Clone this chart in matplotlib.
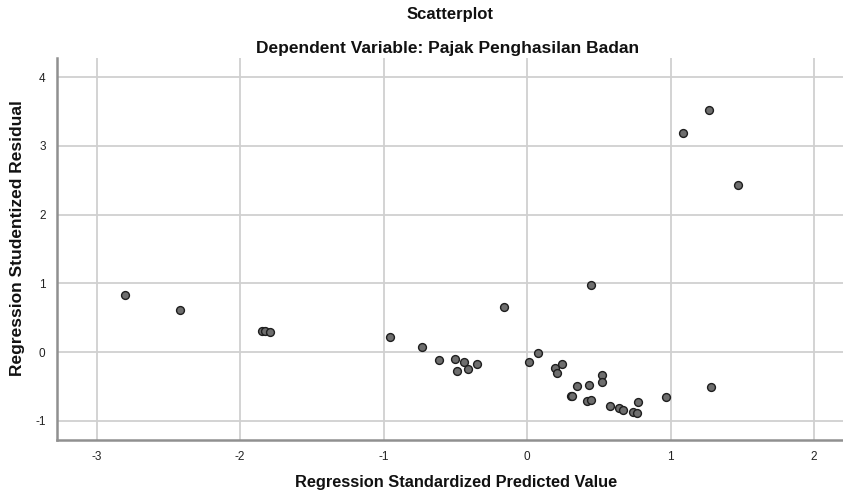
import matplotlib
matplotlib.use("Agg")
import matplotlib.pyplot as plt

plt.rcParams['font.family'] = ['Liberation Sans', 'DejaVu Sans']

predicted = [-2.80, -2.42, -1.845, -1.827, -1.79, -0.953,
             -0.73, -0.617, -0.50, -0.44, -0.487, -0.41, -0.35, -0.158,
             0.01, 0.076, 0.195, 0.21, 0.245, 0.306, 0.315, 0.35,
             0.417, 0.445, 0.43, 0.445, 0.52, 0.52, 0.58, 0.64, 0.665,
             0.737, 0.765, 0.77, 0.965, 1.085, 1.268, 1.28, 1.47]
residual = [0.83, 0.61, 0.31, 0.31, 0.29, 0.22,
            0.07, -0.12, -0.10, -0.15, -0.28, -0.25, -0.18, 0.65,
            -0.14, -0.015, -0.24, -0.31, -0.18, -0.64, -0.64, -0.50,
            -0.72, -0.70, -0.48, 0.98, -0.33, -0.44, -0.79, -0.82, -0.84,
            -0.875, -0.89, -0.73, -0.65, 3.19, 3.53, -0.51, 2.43]

x_ticks = [-3, -2, -1, 0, 1, 2]
y_ticks = [-1, 0, 1, 2, 3, 4]

fig = plt.figure(figsize=(8.43, 4.90), dpi=100)
W, H = 843, 490
left, right, top, bottom = 56.7, 843, 58, 440
ax = fig.add_axes([left / W, 1 - bottom / H, (right - left) / W, (bottom - top) / H])

ax.scatter(predicted, residual, s=32, facecolor='#6e6e6e', edgecolor='#1e1e1e',
           linewidths=1.0, zorder=3)

ax.set_xlim(-3.278, 2.201)
ax.set_ylim(-1.281, 4.28)
ax.set_xticks(x_ticks)
ax.set_yticks(y_ticks)
ax.set_xticklabels([str(t) for t in x_ticks])
ax.set_yticklabels([str(t) for t in y_ticks])
ax.grid(True, color='#d0d0d0', linewidth=1.3, zorder=0)
ax.set_axisbelow(True)
for s in ['top', 'right']:
    ax.spines[s].set_visible(False)
for s in ['left', 'bottom']:
    ax.spines[s].set_color('#909090')
    ax.spines[s].set_linewidth(1.8)
ax.tick_params(length=0, labelsize=8.5, colors='#222222', pad=8)

fig.text(450 / W, 1 - 14 / H, 'Scatterplot', ha='center', va='center',
         fontsize=12, fontweight='bold', color='#111111')
fig.text(448 / W, 1 - 48 / H, 'Dependent Variable: Pajak Penghasilan Badan', ha='center',
         va='center', fontsize=12.5, fontweight='bold', color='#111111')
fig.text(18 / W, 1 - 238 / H, 'Regression Studentized Residual', rotation=90, ha='center',
         va='center', fontsize=12.5, fontweight='bold', color='#111111')
fig.text(456 / W, 1 - 482 / H, 'Regression Standardized Predicted Value', ha='center',
         va='center', fontsize=11.8, fontweight='bold', color='#111111')

fig.savefig('out.png', dpi=100)
